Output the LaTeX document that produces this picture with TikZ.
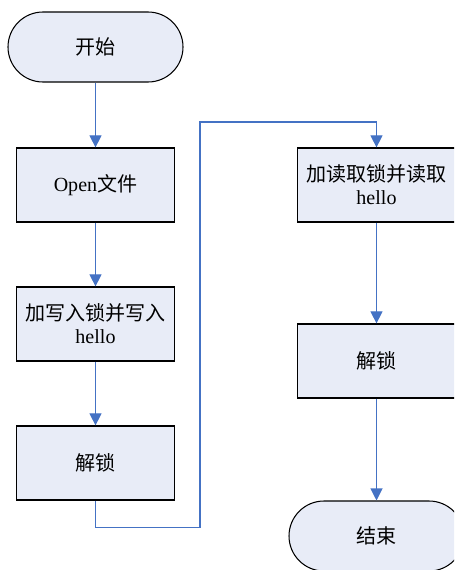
\documentclass[tikz,border=0pt]{standalone}
\usepackage{fontspec}
\setmainfont{Liberation Serif}
\newfontfamily\cjk{Noto Sans CJK SC}
\usetikzlibrary{positioning, arrows.meta}
\definecolor{boxfill}{RGB}{232,236,247}
\definecolor{flowblue}{RGB}{68,114,196}

\begin{document}
\begin{tikzpicture}
    [
        node distance=27.8mm and 56.2mm, on grid, font=\fontsize{11.4}{13}\selectfont,
        term_node/.style={rectangle, rounded corners=7mm, draw=black, fill=boxfill, line width=0.6pt, minimum width=35mm, minimum height=14mm},
        step_node/.style={rectangle, draw=black, fill=boxfill, line width=0.7pt, minimum width=31.6mm, minimum height=14.8mm, align=center},
        flow/.style={-{Triangle[length=2.4mm, width=2.4mm]}, line width=0.6pt, color=flowblue},
    ]
        \useasboundingbox (0,0) rectangle (9.08,-11.4);
        \clip (0,0) rectangle (9.08,-11.4);
        \node[term_node] (start) at (1.91,-0.94) {\cjk 开始} ;
        \node[step_node] (open) [below = 27.6mm of start] {Open{\cjk 文件}} ;
        \node[step_node] (write) [below = of open] {{\cjk 加写入锁并写入}\\hello} ;
        \node[step_node] (unlockw) [below = of write] {\cjk 解锁} ;
        \node[step_node] (read) [right = of open] {{\cjk 加读取锁并读取}\\hello} ;
        \node[step_node] (unlockr) [below = 35.2mm of read] {\cjk 解锁} ;
        \node[term_node] (finish) [below = 35mm of unlockr] {\cjk 结束} ;
        \coordinate (turn) at (4.0,-2.44) ;
        \draw[flow] (start) to (open) ;
        \draw[flow] (open) to (write) ;
        \draw[flow] (write) to (unlockw) ;
        \draw[flow] (unlockw.south) -- ++(0,-5.4mm) -| (turn) -| (read.north) ;
        \draw[flow] (read) to (unlockr) ;
        \draw[flow] (unlockr) to (finish) ;
\end{tikzpicture}
\end{document}
